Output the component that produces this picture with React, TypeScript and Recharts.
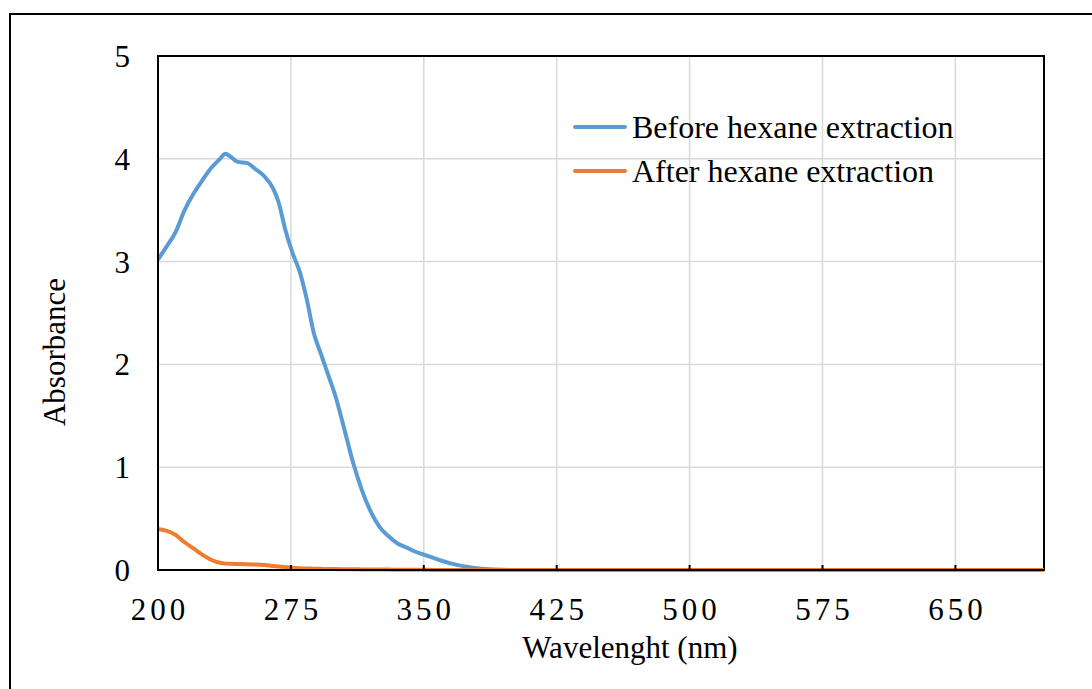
import * as React from "react";
import {
  CartesianGrid,
  Legend,
  Line,
  LineChart,
  ReferenceArea,
  XAxis,
  YAxis,
} from "recharts";

const wavelengths = [
  200, 205, 210, 215, 220, 225, 230, 235, 238, 241, 245, 250, 255, 260, 265, 268,
  272, 276, 280, 284, 288, 292, 296, 300, 305, 310, 315, 320, 325, 330, 335, 340,
  345, 350, 355, 360, 365, 370, 375, 380, 385, 390, 400, 450, 500, 550, 600, 650, 700,
];

const beforeHexane = [
  3.02, 3.15, 3.29, 3.5, 3.66, 3.79, 3.91, 4.0, 4.05, 4.02, 3.97, 3.96, 3.9, 3.83, 3.71, 3.58,
  3.3, 3.08, 2.9, 2.63, 2.3, 2.1, 1.9, 1.7, 1.38, 1.05, 0.78, 0.57, 0.42, 0.33, 0.26, 0.22,
  0.18, 0.15, 0.12, 0.09, 0.065, 0.045, 0.03, 0.018, 0.01, 0.005, 0, 0, 0, 0, 0, 0, 0,
];

const afterHexane = [
  0.4, 0.38, 0.34, 0.27, 0.21, 0.15, 0.1, 0.07, 0.062, 0.06, 0.058, 0.056, 0.053, 0.048, 0.04, 0.035,
  0.028, 0.022, 0.018, 0.015, 0.013, 0.011, 0.01, 0.009, 0.008, 0.007, 0.006, 0.005, 0.004, 0.004, 0.003, 0.003,
  0.002, 0.002, 0.001, 0.001, 0.001, 0, 0, 0, 0, 0, 0, 0, 0, 0, 0, 0, 0,
];

const seriesNames = ["Before hexane extraction", "After hexane extraction"];
const xTicks = [200, 275, 350, 425, 500, 575, 650];
const yTicks = [0, 1, 2, 3, 4, 5];

const chartData = wavelengths.map((wl, i) => ({
  wl,
  before: beforeHexane[i],
  after: afterHexane[i],
}));

const FONT = '"Liberation Serif", "Times New Roman", serif';
const BLUE = "#5B9BD5";
const ORANGE = "#ED7D31";

function XTick({ x = 0, y = 0, payload }: any) {
  return (
    <g>
      {payload.value !== 200 ? (
        <line x1={x} x2={x} y1={y} y2={y - 5} stroke="#000" strokeWidth={2} />
      ) : null}
      <text
        x={x + 2}
        y={y + 50}
        textAnchor="middle"
        fontFamily={FONT}
        fontSize={31}
        letterSpacing={4}
        fill="#000"
      >
        {payload.value}
      </text>
    </g>
  );
}

function LegendContent({ payload }: any) {
  // keep the series order, recharts sorts legend items by name
  const items = [...(payload ?? [])].sort(
    (a: any, b: any) => seriesNames.indexOf(a.value) - seriesNames.indexOf(b.value),
  );
  return (
    <div style={{ fontFamily: FONT, fontSize: 32, color: "#000" }}>
      {items.map((entry: any) => (
        <div
          key={entry.value}
          style={{ display: "flex", alignItems: "center", height: 44, whiteSpace: "nowrap" }}
        >
          <svg width={54} height={6} style={{ marginRight: 5 }}>
            <line x1={2} x2={52} y1={3} y2={3} stroke={entry.color} strokeWidth={4} strokeLinecap="round" />
          </svg>
          <span>{entry.value}</span>
        </div>
      ))}
    </div>
  );
}

export default function App() {
  return (
    <div
      style={{
        position: "absolute",
        left: 0,
        top: 0,
        width: 1092,
        height: 689,
        overflow: "hidden",
        background: "#fff",
      }}
    >
      <div
        style={{
          position: "absolute",
          left: 9,
          top: 13,
          width: 1100,
          height: 700,
          border: "2px solid #000",
        }}
      />
      <div style={{ position: "absolute", left: 0, top: 0 }}>
        <LineChart
          width={1092}
          height={689}
          data={chartData}
          margin={{ top: 56, right: 48, bottom: 0, left: 0 }}
        >
          <CartesianGrid stroke="#d9d9d9" strokeWidth={1.5} />
          <XAxis
            dataKey="wl"
            type="number"
            domain={[200, 700]}
            ticks={xTicks}
            height={119}
            tickSize={0}
            tickMargin={0}
            tickLine={false}
            axisLine={{ stroke: "#000", strokeWidth: 2 }}
            tick={<XTick />}
            interval={0}
            allowDataOverflow
            label={() => (
              <text
                x={630}
                y={658}
                textAnchor="middle"
                fontFamily={FONT}
                fontSize={31}
                fill="#000"
              >
                Wavelenght (nm)
              </text>
            )}
          />
          <YAxis
            type="number"
            domain={[0, 5]}
            ticks={yTicks}
            width={158}
            tickSize={0}
            tickMargin={28}
            tickLine={false}
            axisLine={{ stroke: "#000", strokeWidth: 2 }}
            tick={{ fontFamily: FONT, fontSize: 31, fill: "#000" }}
            interval={0}
            label={() => (
              <text
                x={65}
                y={352}
                transform="rotate(-90 65 352)"
                textAnchor="middle"
                fontFamily={FONT}
                fontSize={31}
                fill="#000"
              >
                Absorbance
              </text>
            )}
          />
          <ReferenceArea
            x1={200}
            x2={700}
            y1={0}
            y2={5}
            fill="none"
            stroke="#000"
            strokeWidth={2}
            ifOverflow="visible"
          />
          <Line
            type="monotone"
            dataKey="before"
            name={seriesNames[0]}
            stroke={BLUE}
            strokeWidth={4}
            dot={false}
            isAnimationActive={false}
          />
          <Line
            type="monotone"
            dataKey="after"
            name={seriesNames[1]}
            stroke={ORANGE}
            strokeWidth={4}
            dot={false}
            isAnimationActive={false}
          />
          <Legend
            layout="vertical"
            align="center"
            verticalAlign="middle"
            content={<LegendContent />}
            wrapperStyle={{ left: 573, top: 105, width: "auto", height: "auto" }}
          />
        </LineChart>
      </div>
    </div>
  );
}
